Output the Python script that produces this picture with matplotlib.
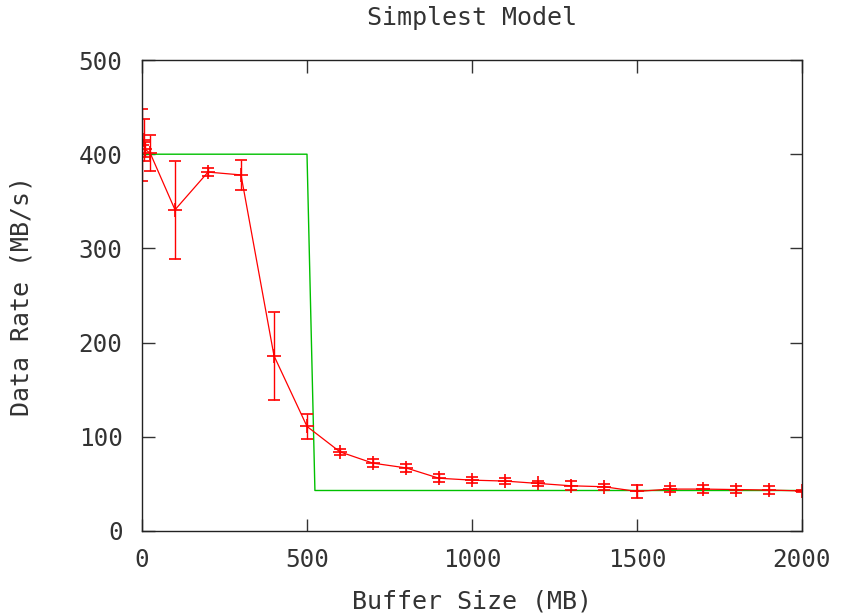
import matplotlib
matplotlib.use("Agg")
from matplotlib import pyplot as plt

# measured points (buffer size in MB, rate in MB/s, error half-width)
buf_size = [1, 5, 10, 25, 100, 200, 300, 400, 500, 600, 700, 800, 900,
            1000, 1100, 1200, 1300, 1400, 1500, 1600, 1700, 1800, 1900, 2000]
rate = [410, 415, 405, 401, 341, 381, 378, 186, 111, 84, 72, 67, 56,
        54, 53, 50.5, 48, 47, 42, 44.5, 44.5, 44, 43.5, 42.5]
rate_err = [38, 22, 8, 19, 52, 4, 16, 47, 13, 3, 4, 4, 4,
            3, 3, 3, 5, 3, 6.5, 3, 4, 4, 4, 1]

# simplest model curve
model_x = [0, 500, 524, 2000]
model_y = [400, 400, 43, 43]

mono = "DejaVu Sans Mono"
plt.rcParams['font.family'] = mono
txt_col = "#333333"

fig = plt.figure(figsize=(8.43, 6.16), dpi=100)
ax = fig.add_axes([142 / 843, 1 - 531 / 616, 660 / 843, 471 / 616])

ax.plot(model_x, model_y, color="#00c000", lw=1.0)
ax.errorbar(buf_size, rate, yerr=rate_err, color="#ff0000", lw=0.9,
            elinewidth=1.0, capsize=4.5, capthick=1.0,
            marker="+", markersize=10, markeredgewidth=1.2)

ax.set_xlim(0, 2000)
ax.set_ylim(0, 500)
ax.set_xticks([0, 500, 1000, 1500, 2000])
ax.set_yticks([0, 100, 200, 300, 400, 500])
ax.tick_params(direction="in", length=9, width=1, top=True, right=True,
               labelsize=17.5, colors=txt_col)
ax.tick_params(axis="y", pad=14)
ax.tick_params(axis="x", pad=12)
for s in ax.spines.values():
    s.set_linewidth(1)
    s.set_color("#222222")

fig.text(0.5 * (142 + 802) / 843, 1 - 18 / 616, "Simplest Model",
         ha="center", va="center", fontsize=18, color=txt_col)
fig.text(0.5 * (142 + 802) / 843, 1 - 601 / 616, "Buffer Size (MB)",
         ha="center", va="center", fontsize=18, color=txt_col)
fig.text(22 / 843, 1 - 296 / 616, "Data Rate (MB/s)", rotation=90,
         ha="center", va="center", fontsize=18, color=txt_col)

fig.savefig("out.png", dpi=100)
